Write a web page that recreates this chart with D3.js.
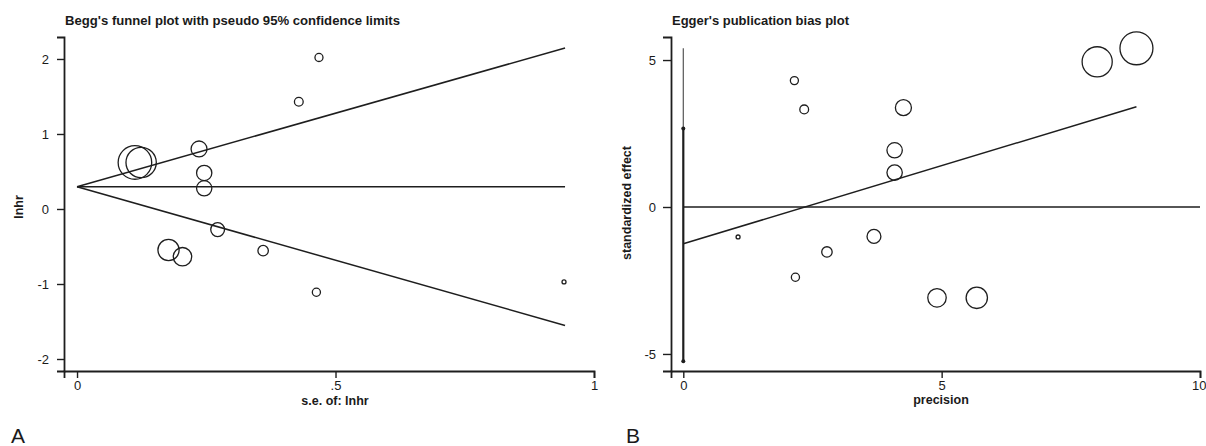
<!DOCTYPE html>
<html><head><meta charset="utf-8">
<script src="https://cdn.jsdelivr.net/npm/d3@7/dist/d3.min.js"></script>
<style>
html,body{margin:0;padding:0;background:#fff;}
svg text{font-family:"Liberation Sans",Arial,sans-serif;fill:#1a1a1a;}
</style></head>
<body>
<svg id="c" width="1206" height="446"></svg>
<script>
// ---- Panel A: Begg's funnel plot data ----
const seA   = [0.112, 0.124, 0.236, 0.246, 0.246, 0.272, 0.177, 0.204, 0.360, 0.463, 0.429, 0.468, 0.942];
const lnhrA = [0.620, 0.620, 0.800, 0.480, 0.276, -0.275, -0.547, -0.636, -0.556, -1.110, 1.430, 2.020, -0.973];
const funnelSE     = [0, 0.944];
const funnelPooled = [0.297, 0.297];
const funnelUpper  = [0.297, 2.147];
const funnelLower  = [0.297, -1.553];
const xTicksA = [0, 0.5, 1];
const xTickLabelsA = ["0", ".5", "1"];
const yTicksA = [-2, -1, 0, 1, 2];
const yTickLabelsA = ["-2", "-1", "0", "1", "2"];

// ---- Panel B: Egger's plot data ----
const precB   = [8.77, 8.01, 4.26, 4.09, 4.09, 3.69, 2.78, 2.17, 2.34, 2.15, 1.06, 4.91, 5.68];
const stdEffB = [5.40, 4.94, 3.38, 1.93, 1.17, -1.00, -1.53, -2.39, 3.32, 4.30, -1.02, -3.09, -3.09];
const eggerFitX = [0, 8.77];
const eggerFitY = [-1.25, 3.41];
const eggerZeroX = [0, 10];
const eggerCI = [-5.25, 2.67];
const eggerCITop = 5.40;
const xTicksB = [0, 5, 10];
const xTickLabelsB = ["0", "5", "10"];
const yTicksB = [-5, 0, 5];
const yTickLabelsB = ["-5", "0", "5"];

const svg = d3.select("#c");
svg.append("rect").attr("width",1206).attr("height",446).attr("fill","#fff");
const ink = "#1e1e1e";

// radius ~ sqrt(weight), weight = 1/se^2 = precision^2
const rScale = d3.scaleSqrt().domain([0, 100]).range([0, 18.8]);

function drawAxes(g, x, y, xt, xl, yt, yl, ytick, ypad){
  const ax = g.append("g").attr("transform",`translate(0,${y.range()[0]})`)
    .call(d3.axisBottom(x).tickValues(xt).tickFormat((d,i)=>xl[i]).tickSizeOuter(0).tickSize(7).tickPadding(3));
  const ay = g.append("g").attr("transform",`translate(${x.range()[0]},0)`)
    .call(d3.axisLeft(y).tickValues(yt).tickFormat((d,i)=>yl[i]).tickSizeOuter(0).tickSize(ytick).tickPadding(ypad));
  [ax, ay].forEach(a=>{
    a.select(".domain").attr("stroke",ink).attr("stroke-width",1.8);
    a.selectAll(".tick line").attr("stroke",ink).attr("stroke-width",1.4);
    a.selectAll(".tick text").attr("font-size",13).attr("fill",ink)
      .attr("font-family","'Liberation Sans',Arial,sans-serif");
  });
  return ax;
}

// ================= Panel A =================
const xA = d3.scaleLinear().domain([-0.0252, 1.0]).range([64, 594]);
const yA = d3.scaleLinear().domain([-2.16, 2.293]).range([371, 37]);
const gA = svg.append("g");
drawAxes(gA, xA, yA, xTicksA, xTickLabelsA, yTicksA, yTickLabelsA, 7, 8);

const lineA = d3.line().x(d=>xA(d[0])).y(d=>yA(d[1]));
[funnelPooled, funnelUpper, funnelLower].forEach(arr=>{
  gA.append("path").attr("d", lineA(funnelSE.map((s,i)=>[s, arr[i]])))
    .attr("fill","none").attr("stroke",ink).attr("stroke-width",1.5);
});
gA.selectAll("circle.pt").data(seA.map((s,i)=>({s, v:lnhrA[i]}))).join("circle")
  .attr("class","pt")
  .attr("cx",d=>xA(d.s)).attr("cy",d=>yA(d.v))
  .attr("r",d=>rScale(1/(d.s*d.s)))
  .attr("fill","none").attr("stroke",ink).attr("stroke-width",1.3);

gA.append("text").attr("x",65).attr("y",25).attr("font-size",13).attr("font-weight","bold")
  .attr("textLength",335).attr("lengthAdjust","spacingAndGlyphs")
  .text("Begg's funnel plot with pseudo 95% confidence limits");
gA.append("text").attr("x",335).attr("y",405).attr("text-anchor","middle")
  .attr("font-size",12.5).attr("font-weight","bold").text("s.e. of: lnhr");
gA.append("text").attr("transform","translate(23,207) rotate(-90)").attr("text-anchor","middle")
  .attr("font-size",12.5).attr("font-weight","bold").text("lnhr");
gA.append("text").attr("x",11).attr("y",443).attr("font-size",21).text("A");

// ================= Panel B =================
const xB = d3.scaleLinear().domain([-0.238, 10]).range([671, 1200]);
const yB = d3.scaleLinear().domain([-5.58, 5.784]).range([371, 37]);
const gB = svg.append("g");
const axB = drawAxes(gB, xB, yB, xTicksB, xTickLabelsB, yTicksB, yTickLabelsB, 8, 7);
// keep the last tick label inside the canvas edge
axB.selectAll(".tick text").filter(d=>d===xTicksB[xTicksB.length-1]).attr("text-anchor","end").attr("dx","6");

const lineB = d3.line().x(d=>xB(d[0])).y(d=>yB(d[1]));
gB.append("path").attr("d", lineB(eggerZeroX.map(p=>[p,0])))
  .attr("fill","none").attr("stroke",ink).attr("stroke-width",1.5);
gB.append("path").attr("d", lineB(eggerFitX.map((p,i)=>[p, eggerFitY[i]])))
  .attr("fill","none").attr("stroke",ink).attr("stroke-width",1.5);
// intercept CI
gB.append("path").attr("d", lineB([[0, eggerCITop],[0, eggerCI[1]]]))
  .attr("fill","none").attr("stroke","#555").attr("stroke-width",1.2);
gB.append("path").attr("d", lineB([[0, eggerCI[0]],[0, eggerCI[1]]]))
  .attr("fill","none").attr("stroke",ink).attr("stroke-width",2.2);
gB.selectAll("circle.ci").data(eggerCI).join("circle").attr("class","ci")
  .attr("cx",xB(0)).attr("cy",d=>yB(d)).attr("r",2).attr("fill",ink);

gB.selectAll("circle.pt").data(precB.map((p,i)=>({p, v:stdEffB[i]}))).join("circle")
  .attr("class","pt")
  .attr("cx",d=>xB(d.p)).attr("cy",d=>yB(d.v))
  .attr("r",d=>rScale(d.p*d.p))
  .attr("fill","none").attr("stroke",ink).attr("stroke-width",1.3);

gB.append("text").attr("x",672).attr("y",25).attr("font-size",13).attr("font-weight","bold")
  .attr("textLength",177).attr("lengthAdjust","spacingAndGlyphs")
  .text("Egger's publication bias plot");
gB.append("text").attr("x",941).attr("y",404).attr("text-anchor","middle")
  .attr("font-size",12.5).attr("font-weight","bold").text("precision");
gB.append("text").attr("transform","translate(631,203) rotate(-90)").attr("text-anchor","middle")
  .attr("font-size",12.5).attr("font-weight","bold").text("standardized effect");
gB.append("text").attr("x",626).attr("y",443).attr("font-size",21).text("B");
</script>
</body></html>
